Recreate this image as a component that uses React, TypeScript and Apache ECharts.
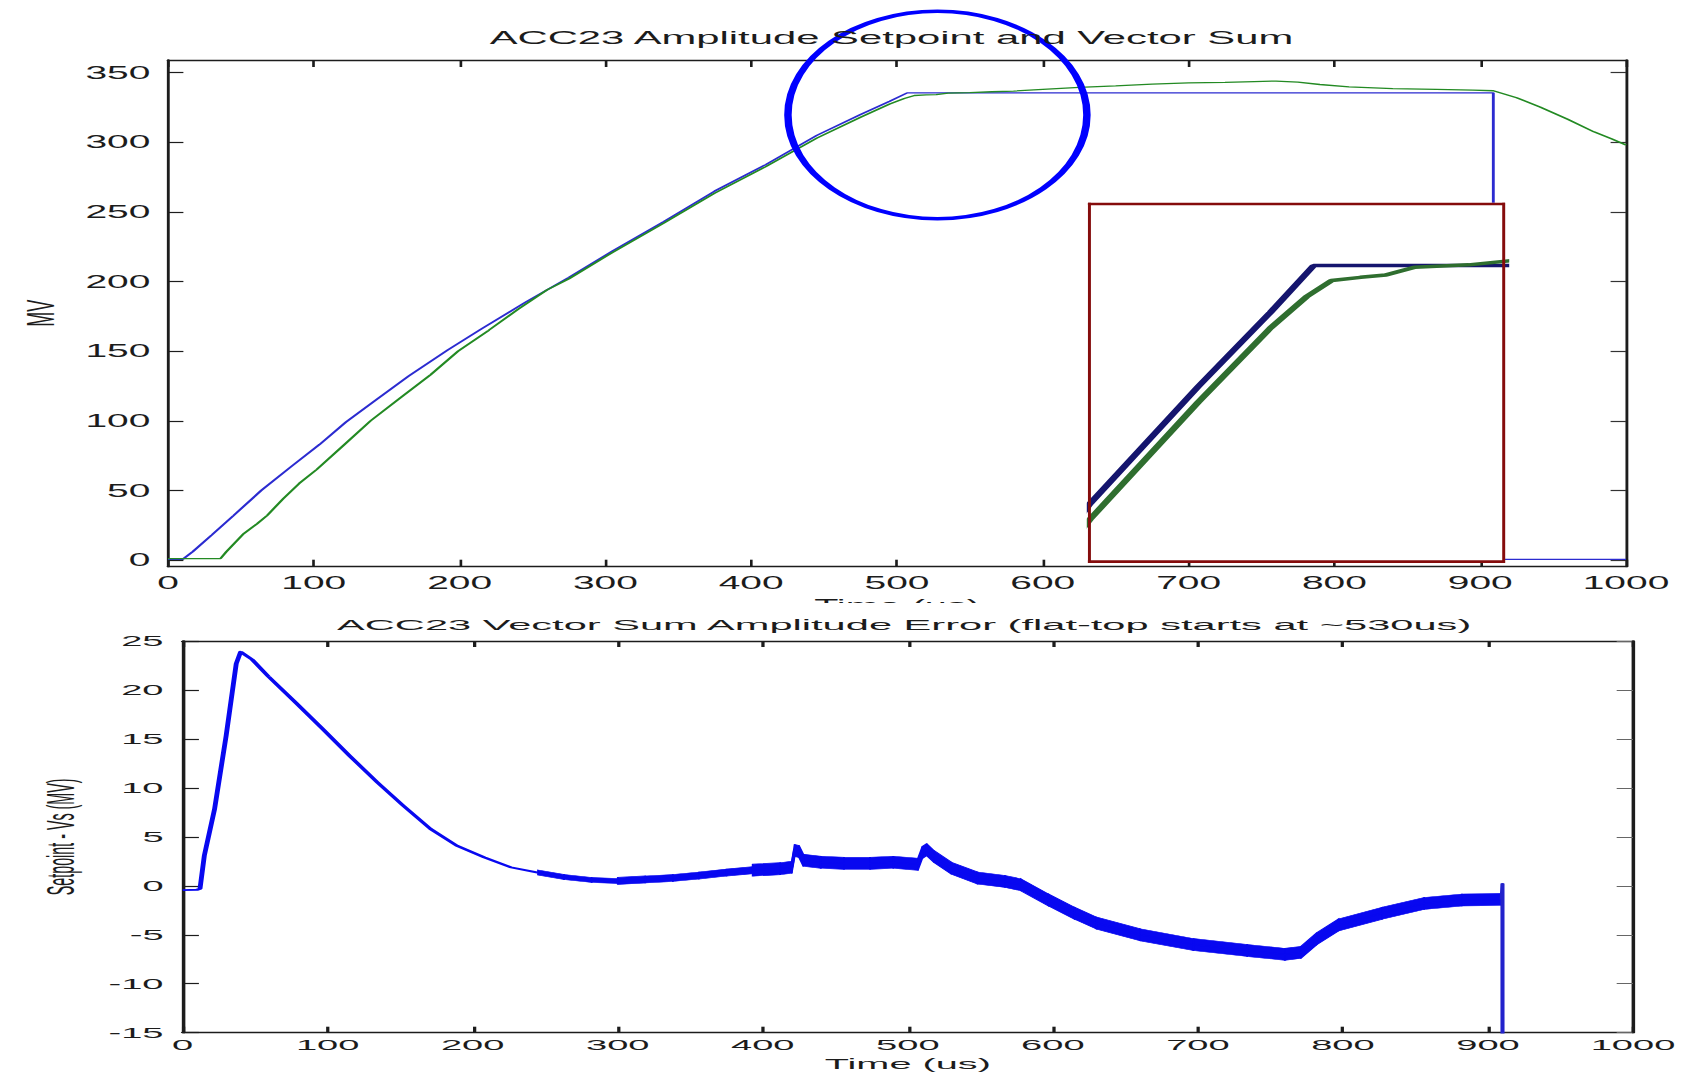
import React, { useEffect, useRef } from "react";
import * as echarts from "echarts";

// ---------------- data ----------------
const timeTicks = [0, 100, 200, 300, 400, 500, 600, 700, 800, 900, 1000];
const amplitudeTicks = [0, 50, 100, 150, 200, 250, 300, 350];
const errorTicks = [-15, -10, -5, 0, 5, 10, 15, 20, 25];

// Setpoint (blue), MV vs time (us)
const setpointTime = [0, 10, 17, 30, 45, 64, 85, 104, 122, 142, 165, 192, 215, 245, 275, 305, 340, 375, 410, 445, 475, 495, 507, 909, 909, 1000];
const setpointMV = [0.5, 0.5, 6, 18, 32, 50, 67.5, 83, 99, 114.5, 132, 151, 166, 185, 203, 222, 243, 265, 284, 305, 320, 329.5, 335.5, 335.5, 0.5, 0.5];

// Vector sum (green), MV vs time (us)
const vectorSumTime = [0, 36, 40, 52, 61, 68, 79, 90, 102, 120, 139, 160, 180, 199, 220, 240, 260, 275, 305, 340, 375, 410, 445, 475, 495, 505, 512, 520, 527, 535, 550, 565, 580, 600, 625, 650, 675, 700, 725, 745, 760, 775, 790, 810, 840, 870, 895, 909, 925, 941, 960, 978, 990, 1000];
const vectorSumMV = [1, 1, 6, 19, 26, 32, 44, 55, 65, 82, 100, 117, 133, 150, 165, 180, 194, 202, 221, 242, 263.5, 282.5, 303, 318, 327.5, 331.5, 333.6, 334, 334.3, 335.3, 335.6, 336.3, 336.8, 338, 339.4, 340.5, 341.8, 342.6, 343, 343.6, 344, 343.2, 341.5, 339.8, 338.6, 338, 337.5, 337, 332, 325.4, 316.5, 307.5, 302.5, 298];

// Amplitude error = setpoint - Vs (MV) vs time (us)
const errorTime = [0, 10, 12, 15, 22, 30, 37, 40, 43, 48, 59, 78, 96, 115, 134, 152, 171, 189, 208, 226, 245, 263, 282, 300, 319, 338, 356, 375, 393, 412, 420, 422, 425, 428, 440, 456, 474, 490, 507, 510, 513, 518, 530, 548, 567, 578, 597, 615, 630, 660, 697, 734, 760, 771, 782, 797, 827, 856, 882, 909.5, 910, 910.5];
const errorMV = [-0.45, -0.4, -0.3, 3.1, 7.8, 15.3, 22.7, 23.9, 23.6, 23.1, 21.4, 18.7, 16.1, 13.3, 10.6, 8.2, 5.8, 4.1, 2.9, 1.9, 1.35, 0.9, 0.6, 0.5, 0.65, 0.8, 1.05, 1.35, 1.6, 1.75, 1.9, 3.6, 3.5, 2.6, 2.4, 2.3, 2.3, 2.4, 2.2, 3.4, 3.7, 3.0, 1.8, 0.8, 0.45, 0.1, -1.45, -2.8, -3.8, -5.0, -6.0, -6.6, -7.0, -6.8, -5.4, -4.0, -2.8, -1.8, -1.45, -1.4, 0.2, -336];

// ---------------- layout / style ----------------
const FONT = '"Liberation Sans", Arial, Helvetica, sans-serif';
const INK = "#1c1c1c";
const PAGE_W = 1684;
const PAGE_H = 1075;
const SPLIT_Y = 603;
const STRETCH_TOP = 2.2;
const STRETCH_BOTTOM = 2.72;

const zip = (t: number[], v: number[]) => t.map((x, i) => [x, v[i]]);
const slicePairs = (t: number[], v: number[], a: number, b: number) =>
  t.slice(a, b + 1).map((x, i) => [x, v[a + i]]);
const plainNumber = (v: number) => String(v);

function frameAxis(opts: any, tickLen: number, tickColor: string, labelCfg: any) {
  return {
    type: "value",
    splitLine: { show: false },
    axisLine: { show: true, onZero: false, lineStyle: { color: INK, width: 1.3 } },
    axisTick: {
      show: true,
      inside: true,
      length: tickLen,
      customValues: opts.ticks,
      lineStyle: { color: tickColor, width: 1.2 },
    },
    axisLabel: labelCfg
      ? { show: true, customValues: opts.ticks, color: INK, fontFamily: FONT, formatter: plainNumber, ...labelCfg }
      : { show: false },
    ...opts.rest,
  };
}

function buildTopOption() {
  const ampMin = -4.8;
  const ampMax = 359.1;
  return {
    animation: false,
    backgroundColor: "#ffffff",
    textStyle: { fontFamily: FONT },
    title: [
      {
        text: "ACC23 Amplitude Setpoint and Vector Sum",
        left: 405.2,
        top: 38,
        textAlign: "center",
        textVerticalAlign: "middle",
        padding: 0,
        textStyle: { fontFamily: FONT, fontSize: 19, fontWeight: "normal", color: INK },
      },
    ],
    grid: [
      { left: 76.36, top: 60, width: 662.73, height: 506.7, containLabel: false, outerBoundsMode: "none" },
      { left: 495.9, top: 205.5, width: 186.8, height: 354.5, containLabel: false, outerBoundsMode: "none" },
    ],
    xAxis: [
      frameAxis(
        {
          ticks: timeTicks,
          rest: {
            gridIndex: 0,
            position: "bottom",
            min: 0,
            max: 1000,
            interval: 100,
            name: "Time (us)",
            nameLocation: "middle",
            nameGap: 28.5,
            nameTextStyle: { fontFamily: FONT, fontSize: 18, color: INK },
          },
        },
        7,
        INK,
        { margin: 7, fontSize: 17.7 }
      ),
      frameAxis(
        { ticks: timeTicks, rest: { gridIndex: 0, position: "top", min: 0, max: 1000, interval: 100 } },
        7,
        INK,
        null
      ),
      { type: "value", gridIndex: 1, min: 445.3, max: 559.2, show: false },
    ],
    yAxis: [
      frameAxis(
        {
          ticks: amplitudeTicks,
          rest: {
            gridIndex: 0,
            position: "left",
            min: ampMin,
            max: ampMax,
            name: "MV",
            nameLocation: "middle",
            nameGap: 49,
            nameRotate: 90,
            nameTextStyle: { fontFamily: FONT, fontSize: 18, color: INK },
          },
        },
        7,
        INK,
        { margin: 8, fontSize: 17.7 }
      ),
      frameAxis(
        { ticks: amplitudeTicks, rest: { gridIndex: 0, position: "right", min: ampMin, max: ampMax } },
        7,
        "#333333",
        null
      ),
      { type: "value", gridIndex: 1, min: 297.8, max: 343.2, show: false },
    ],
    series: [
      {
        type: "line",
        name: "Setpoint",
        xAxisIndex: 0,
        yAxisIndex: 0,
        data: zip(setpointTime, setpointMV),
        symbol: "none",
        silent: true,
        z: 2,
        lineStyle: { color: "#2b2bd0", width: 1.3 },
      },
      {
        type: "line",
        name: "Vector Sum",
        xAxisIndex: 0,
        yAxisIndex: 0,
        data: zip(vectorSumTime, vectorSumMV),
        symbol: "none",
        silent: true,
        z: 2,
        lineStyle: { color: "#238a23", width: 1.3 },
      },
      {
        type: "line",
        name: "Setpoint (zoom)",
        xAxisIndex: 2,
        yAxisIndex: 2,
        data: zip(setpointTime, setpointMV),
        symbol: "none",
        silent: true,
        clip: true,
        z: 5,
        lineStyle: { color: "#15156e", width: 3.5 },
      },
      {
        type: "line",
        name: "Vector Sum (zoom)",
        xAxisIndex: 2,
        yAxisIndex: 2,
        data: zip(vectorSumTime, vectorSumMV),
        symbol: "none",
        silent: true,
        clip: true,
        z: 5,
        lineStyle: { color: "#2f6e2f", width: 3.5 },
      },
    ],
    graphic: [
      {
        type: "rect",
        z: 3,
        silent: true,
        shape: { x: 494.5, y: 202.7, width: 189.6, height: 360.3 },
        style: { fill: "#ffffff", stroke: "none" },
      },
      {
        type: "line",
        z: 6,
        silent: true,
        shape: { x1: 494.5, y1: 204, x2: 684.1, y2: 204 },
        style: { stroke: "#850c0c", lineWidth: 2.7 },
      },
      {
        type: "line",
        z: 6,
        silent: true,
        shape: { x1: 494.5, y1: 561.6, x2: 684.1, y2: 561.6 },
        style: { stroke: "#850c0c", lineWidth: 2.7 },
      },
      {
        type: "line",
        z: 6,
        silent: true,
        shape: { x1: 495.2, y1: 202.7, x2: 495.2, y2: 563 },
        style: { stroke: "#850c0c", lineWidth: 1.35 },
      },
      {
        type: "line",
        z: 6,
        silent: true,
        shape: { x1: 683.5, y1: 202.7, x2: 683.5, y2: 563 },
        style: { stroke: "#850c0c", lineWidth: 1.35 },
      },
      {
        type: "ellipse",
        z: 6,
        silent: true,
        shape: { cx: 426.1, cy: 115, rx: 67.95, ry: 103.7 },
        style: { fill: "none", stroke: "#0000ff", lineWidth: 3.4 },
      },
    ],
  };
}

function buildBottomOption() {
  const blue = "#0808f0";
  const lineSeries = (name: string, a: number, b: number, width: number, color = blue) => ({
    type: "line",
    name,
    data: slicePairs(errorTime, errorMV, a, b),
    symbol: "none",
    silent: true,
    clip: true,
    z: 3,
    lineStyle: { color, width, join: "round" },
  });
  // ripple band: constant pixel thickness around the error curve, drawn through the axis scales
  const bandSeries = (name: string, a: number, b: number, halfPx: number) => {
    const pts = slicePairs(errorTime, errorMV, a, b);
    return {
      type: "custom",
      name,
      coordinateSystem: "cartesian2d",
      clip: true,
      silent: true,
      z: 2,
      data: pts,
      encode: { x: 0, y: 1 },
      renderItem: (params: any, api: any) => {
        const i = params.dataIndex;
        if (i >= pts.length - 1) return null;
        const p0 = api.coord(pts[i]);
        const p1 = api.coord(pts[i + 1]);
        return {
          type: "polygon",
          shape: {
            points: [
              [p0[0], p0[1] - halfPx],
              [p1[0], p1[1] - halfPx],
              [p1[0], p1[1] + halfPx],
              [p0[0], p0[1] + halfPx],
            ],
          },
          style: { fill: blue, stroke: blue, lineWidth: 0.6 },
        };
      },
    };
  };
  return {
    animation: false,
    backgroundColor: "#ffffff",
    textStyle: { fontFamily: FONT },
    title: [
      {
        text: "ACC23 Vector Sum Amplitude Error (flat-top starts at ~530us)",
        left: 332.4,
        top: 22,
        textAlign: "center",
        textVerticalAlign: "middle",
        padding: 0,
        textStyle: { fontFamily: FONT, fontSize: 15.3, fontWeight: "normal", color: INK },
      },
    ],
    grid: [{ left: 67.13, top: 38, width: 533.24, height: 391.7, containLabel: false, outerBoundsMode: "none" }],
    xAxis: [
      frameAxis(
        {
          ticks: timeTicks,
          rest: {
            position: "bottom",
            min: 0,
            max: 1000,
            interval: 100,
            name: "Time (us)",
            nameLocation: "middle",
            nameGap: 21.3,
            nameTextStyle: { fontFamily: FONT, fontSize: 14.6, color: INK },
          },
        },
        6,
        INK,
        { margin: 5, fontSize: 14 }
      ),
      frameAxis({ ticks: timeTicks, rest: { position: "top", min: 0, max: 1000, interval: 100 } }, 6, INK, null),
    ],
    yAxis: [
      frameAxis(
        {
          ticks: errorTicks,
          rest: {
            position: "left",
            min: -15,
            max: 25,
            interval: 5,
            name: "Setpoint - Vs (MV)",
            nameLocation: "middle",
            nameGap: 37.5,
            nameRotate: 90,
            nameTextStyle: { fontFamily: FONT, fontSize: 14.3, color: INK },
          },
        },
        6,
        INK,
        { margin: 7, fontSize: 14 }
      ),
      frameAxis(
        { ticks: errorTicks, rest: { position: "right", min: -15, max: 25, interval: 5 } },
        6,
        "#666666",
        null
      ),
    ],
    series: [
      lineSeries("Error (transient)", 0, 20, 1.8),
      bandSeries("Error ripple (settling)", 20, 23, 2.5),
      bandSeries("Error ripple (low)", 23, 28, 3.5),
      bandSeries("Error ripple (flat-top)", 28, 59, 6),
      lineSeries("Error (settling / flat-top)", 20, 59, 1.2),
      lineSeries("Error (pulse end)", 59, 61, 1.5, "#2222cc"),
    ],
  };
}

export default function App() {
  const topRef = useRef<HTMLDivElement>(null);
  const bottomRef = useRef<HTMLDivElement>(null);

  useEffect(() => {
    const top = echarts.init(topRef.current as HTMLDivElement, null, { renderer: "svg" });
    top.setOption(buildTopOption() as any);
    const bottom = echarts.init(bottomRef.current as HTMLDivElement, null, { renderer: "svg" });
    bottom.setOption(buildBottomOption() as any);
    return () => {
      top.dispose();
      bottom.dispose();
    };
  }, []);

  return (
    <div
      style={{
        position: "fixed",
        left: 0,
        top: 0,
        width: PAGE_W,
        height: PAGE_H,
        background: "#ffffff",
        overflow: "hidden",
      }}
    >
      <div
        ref={topRef}
        style={{
          position: "absolute",
          left: 0,
          top: 0,
          width: PAGE_W / STRETCH_TOP,
          height: SPLIT_Y,
          transform: `scaleX(${STRETCH_TOP})`,
          transformOrigin: "0 0",
        }}
      />
      <div
        ref={bottomRef}
        style={{
          position: "absolute",
          left: 0,
          top: SPLIT_Y,
          width: PAGE_W / STRETCH_BOTTOM,
          height: PAGE_H - SPLIT_Y,
          transform: `scaleX(${STRETCH_BOTTOM})`,
          transformOrigin: "0 0",
          background: "#ffffff",
        }}
      />
    </div>
  );
}
